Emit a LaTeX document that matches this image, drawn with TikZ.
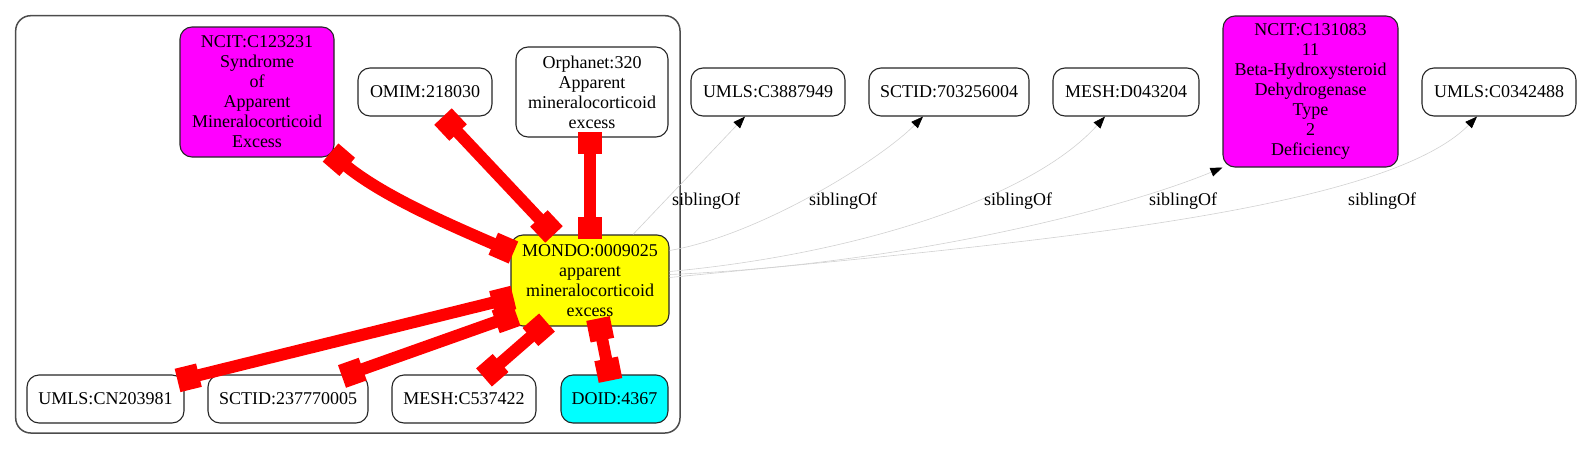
\documentclass[tikz,border=0pt]{standalone}
\usepackage{fontspec}
\setmainfont{Liberation Serif}
\usetikzlibrary{arrows.meta}
\definecolor{ncitpink}{RGB}{255,0,255}
\definecolor{mondoyellow}{RGB}{255,255,0}
\definecolor{doidcyan}{RGB}{0,255,255}
\definecolor{linkred}{RGB}{255,0,0}

\begin{document}
\begin{tikzpicture}[x=1pt, y=1pt, font=\rmfamily\fontsize{18}{20}\selectfont,
	term/.style={draw=black!85, line width=1.1pt, rounded corners=12pt, fill=white, align=center, inner sep=0pt},
	link/.style={draw=linkred, line width=12pt, {Square[length=22pt,width=24pt,color=linkred]}-{Square[length=22pt,width=24pt,color=linkred]}},
	sib/.style={draw=black!18, line width=0.6pt, -{Triangle[length=12pt,width=9pt,color=black]}}]
	\useasboundingbox (0,0) rectangle (1581,-450);
	\draw[color=black!70, line width=1.5pt, rounded corners=15pt] (15.7,-15.7) rectangle (680,-433);
	% cluster
	\node[term, fill=ncitpink, minimum width=154, minimum height=130] (ncitA) at (257,-92) {NCIT:C123231\\Syndrome\\of\\Apparent\\Mineralocorticoid\\Excess};
	\node[term, minimum width=134, minimum height=48] (omim) at (425,-92) {OMIM:218030};
	\node[term, minimum width=152, minimum height=90] (orpha) at (592,-92) {Orphanet:320\\Apparent\\mineralocorticoid\\excess};
	\node[term, fill=mondoyellow, minimum width=158, minimum height=91] (mondo) at (590,-280.5) {MONDO:0009025\\apparent\\mineralocorticoid\\excess};
	\node[term, minimum width=157, minimum height=48] (umlsA) at (105.5,-399) {UMLS:CN203981};
	\node[term, minimum width=160, minimum height=48] (sctidA) at (288,-399) {SCTID:237770005};
	\node[term, minimum width=144, minimum height=48] (meshA) at (464,-399) {MESH:C537422};
	\node[term, fill=doidcyan, minimum width=107, minimum height=48] (doid) at (614.5,-399) {DOID:4367};
	% siblings
	\node[term, minimum width=154, minimum height=48] (umlsB) at (768,-92) {UMLS:C3887949};
	\node[term, minimum width=160, minimum height=48] (sctidB) at (949,-92) {SCTID:703256004};
	\node[term, minimum width=146, minimum height=48] (meshB) at (1126,-92) {MESH:D043204};
	\node[term, fill=ncitpink, minimum width=175, minimum height=151] (ncitB) at (1310.5,-91.5) {NCIT:C131083\\11\\Beta-Hydroxysteroid\\Dehydrogenase\\Type\\2\\Deficiency};
	\node[term, minimum width=154, minimum height=48] (umlsC) at (1499,-92) {UMLS:C0342488};

	\draw[link] ([shift={(-4,5)}]ncitA.south east) .. controls (380,-195) and (450,-225) .. ([shift={(3,28)}]mondo.west);
	\draw[link] ([xshift=18]omim.south) -- ([xshift=-36]mondo.north);
	\draw[link] ([shift={(-2,6)}]orpha.south) -- ([yshift=-5]mondo.north);
	\draw[link] ([shift={(3,-17)}]mondo.west) -- ([shift={(-7,-6)}]umlsA.north east);
	\draw[link] ([shift={(6,-34)}]mondo.west) -- ([shift={(54,-2)}]sctidA.north);
	\draw[link] ([shift={(-43,4)}]mondo.south) -- ([shift={(20,-3)}]meshA.north);
	\draw[link] ([shift={(8,8)}]mondo.south) -- ([shift={(-4,-6)}]doid.north);

	\draw[sib] ([xshift=43]mondo.north) -- ([xshift=-23]umlsB.south);
	\draw[sib] ([yshift=30]mondo.east) .. controls (760,-235) and (880,-160) .. ([xshift=-26]sctidB.south);
	\draw[sib] ([yshift=9]mondo.east) .. controls (850,-255) and (1030,-200) .. ([xshift=-21]meshB.south);
	\draw[sib] ([yshift=6]mondo.east) .. controls (900,-265) and (1120,-210) .. (ncitB.south west);
	\draw[sib] ([yshift=3]mondo.east) .. controls (1000,-245) and (1380,-215) .. ([xshift=-22]umlsC.south);

	\node[anchor=base] (lblA) at (706,-205) {siblingOf};
	\node[anchor=base] (lblB) at (843,-205) {siblingOf};
	\node[anchor=base] (lblC) at (1018,-205) {siblingOf};
	\node[anchor=base] (lblD) at (1183,-205) {siblingOf};
	\node[anchor=base] (lblE) at (1382,-205) {siblingOf};
\end{tikzpicture}
\end{document}
